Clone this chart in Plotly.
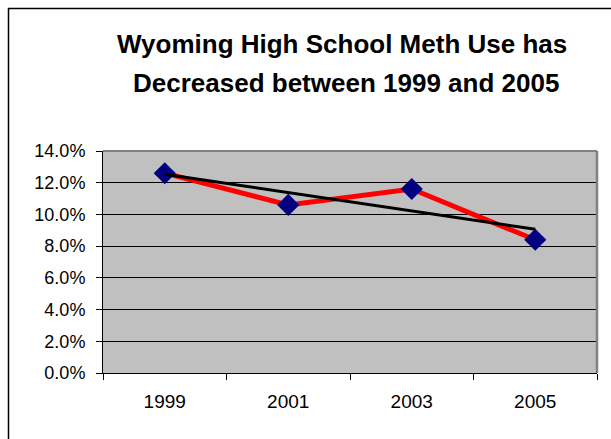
import numpy as np
import plotly.graph_objects as go

years = ["1999", "2001", "2003", "2005"]
meth_use = [0.126, 0.106, 0.116, 0.084]
y_ticks = [0.0, 0.02, 0.04, 0.06, 0.08, 0.10, 0.12, 0.14]
title_lines = ["Wyoming High School Meth Use has", "Decreased between 1999 and 2005"]

# linear trend line (as Excel's trendline)
idx = np.arange(1, len(meth_use) + 1)
slope, intercept = np.polyfit(idx, meth_use, 1)
trend = list(slope * idx + intercept)

W, H = 611, 439
ml, mr, mt, mb = 103, 14, 151, 66
pw, ph = W - ml - mr, H - mt - mb

def px_x(x):
    return (x - ml) / pw

def px_y(y):
    return (H - mb - y) / ph

FONT = "Liberation Sans, Arial, sans-serif"

fig = go.Figure()
fig.add_trace(go.Scatter(
    x=years, y=meth_use, mode="lines+markers",
    line=dict(color="#FF0000", width=5),
    marker=dict(symbol="diamond", size=17, color="#000080", line=dict(width=0)),
    showlegend=False, hoverinfo="skip",
))
fig.add_trace(go.Scatter(
    x=years, y=trend, mode="lines",
    line=dict(color="#000000", width=3),
    showlegend=False, hoverinfo="skip",
))

fig.update_layout(
    width=W, height=H, autosize=False,
    margin=dict(l=ml, r=mr, t=mt, b=mb, pad=0),
    paper_bgcolor="white",
    plot_bgcolor="#C0C0C0",
    font=dict(family=FONT, color="black"),
    xaxis=dict(
        type="category", tickson="boundaries",
        range=[-0.5, len(years) - 0.5],
        showline=True, linecolor="black", linewidth=1,
        ticks="outside", ticklen=6, tickcolor="black", tickwidth=1,
        showgrid=False, zeroline=False,
        tickfont=dict(size=19, family=FONT, color="black"),
        ticklabelstandoff=11,
    ),
    yaxis=dict(
        range=[0, 0.14], tickvals=y_ticks, tickformat=".1%",
        showline=True, linecolor="black", linewidth=1,
        ticks="outside", ticklen=6, tickcolor="black", tickwidth=1,
        showgrid=True, gridcolor="black", gridwidth=1,
        zeroline=False,
        tickfont=dict(size=18, family=FONT, color="black"),
        ticklabelstandoff=7,
    ),
    shapes=[
        dict(type="line", xref="paper", yref="paper", x0=0, x1=1, y0=1, y1=1,
             line=dict(color="#808080", width=2), layer="above"),
        dict(type="line", xref="paper", yref="paper", x0=1, x1=1, y0=0, y1=1,
             line=dict(color="#808080", width=2.5), layer="above"),
        dict(type="rect", xref="paper", yref="paper",
             x0=px_x(8.5), x1=px_x(640), y0=px_y(460), y1=px_y(8.5),
             line=dict(color="black", width=1.5), layer="above"),
    ],
    annotations=[
        dict(text=f"<b>{title_lines[0]}</b>", xref="paper", yref="paper",
             x=px_x(342), y=px_y(44), xanchor="center", yanchor="middle",
             showarrow=False, font=dict(size=26, family=FONT, color="black")),
        dict(text=f"<b>{title_lines[1]}</b>", xref="paper", yref="paper",
             x=px_x(346), y=px_y(83), xanchor="center", yanchor="middle",
             showarrow=False, font=dict(size=26, family=FONT, color="black")),
    ],
)

fig.write_html(
    "out.html",
    config={"displayModeBar": False, "responsive": False},
    post_script="document.body.style.margin='0';document.body.style.overflow='hidden';",
)
